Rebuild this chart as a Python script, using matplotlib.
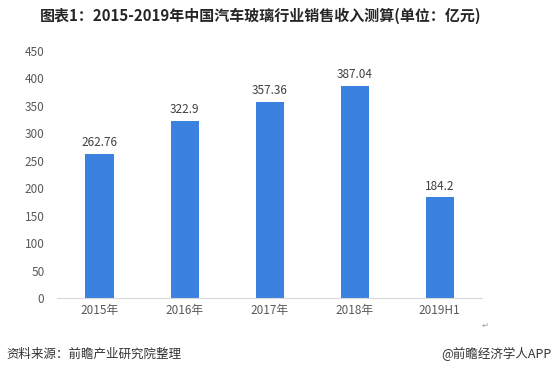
import matplotlib.pyplot as plt

plt.rcParams['font.family'] = ['Noto Sans CJK SC', 'DejaVu Sans']

categories = ["2015年", "2016年", "2017年", "2018年", "2019H1"]
revenue = [262.76, 322.9, 357.36, 387.04, 184.2]
value_labels = ["262.76", "322.9", "357.36", "387.04", "184.2"]
yticks = [0, 50, 100, 150, 200, 250, 300, 350, 400, 450]

fig = plt.figure(figsize=(5.53, 3.75), dpi=100)
ax = fig.add_axes([0.103, 0.2053, 0.769, 0.6587])

x = range(len(categories))
bars = ax.bar(x, revenue, width=0.33, color="#3b82e0")
for b, lab in zip(bars, value_labels):
    ax.text(b.get_x() + b.get_width() / 2, b.get_height() + 8, lab,
            ha="center", va="bottom", fontsize=8.5, color="#404040")

ax.set_xlim(-0.5, len(categories) - 0.5)
ax.set_ylim(0, 450)
ax.set_yticks(yticks)
ax.set_xticks(list(x))
ax.set_xticklabels(categories)
ax.tick_params(axis="y", length=0, pad=9, labelsize=8.5, labelcolor="#595959")
ax.tick_params(axis="x", length=0, pad=4, labelsize=8.5, labelcolor="#595959")
for s in ["top", "right", "left"]:
    ax.spines[s].set_visible(False)
ax.spines["bottom"].set_color("#d9d9d9")

fig.text(0.472, 0.957, "图表1：2015-2019年中国汽车玻璃行业销售收入测算(单位：亿元)",
         ha="center", va="center", fontsize=10.8, fontweight="bold", color="#262626")
fig.text(0.012, 0.055, "资料来源：前瞻产业研究院整理", ha="left", va="center",
         fontsize=9, color="#333333")
fig.text(0.998, 0.055, "@前瞻经济学人APP", ha="right", va="center",
         fontsize=9, color="#333333")
fig.text(0.877, 0.133, "↵", ha="center", va="center", fontsize=6, color="#999999",
         family=["DejaVu Sans"])

fig.savefig("out.png", dpi=100, facecolor="white")
